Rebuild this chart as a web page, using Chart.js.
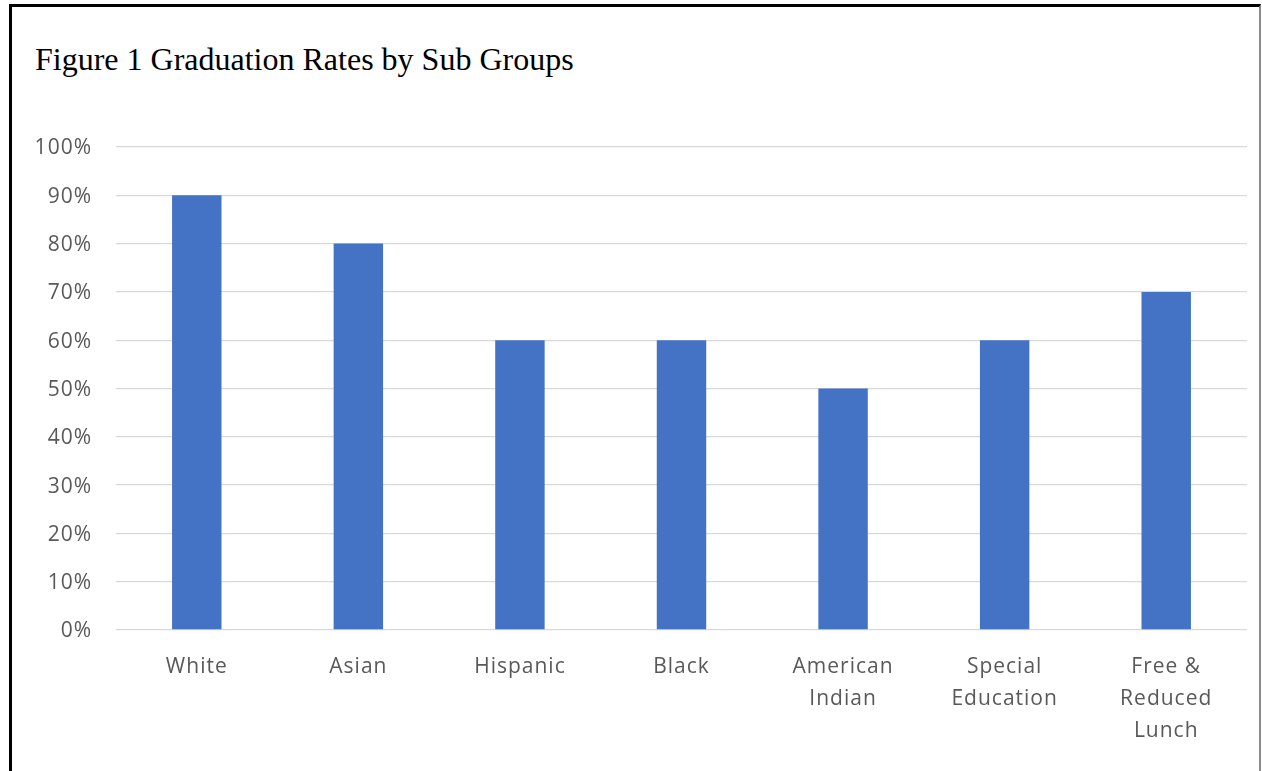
<!DOCTYPE html>
<html>
<head>
<meta charset="utf-8">
<script src="https://cdn.jsdelivr.net/npm/chart.js@4"></script>
<style>
  html, body { margin: 0; padding: 0; background: #fff; width: 1262px; height: 771px; overflow: hidden; }
  #frame { position: absolute; left: 9px; top: 4px; width: 1252px; height: 800px;
           border-left: 3px solid #000; border-top: 3px solid #000; border-right: 2px solid #8a8a8a; box-sizing: border-box; }
  #title { position: absolute; left: 35px; top: 41px; font-family: "Liberation Serif", "Times New Roman", serif;
           font-size: 32px; color: #000; white-space: nowrap; }
  #wrap { position: absolute; left: 0; top: 0; width: 1262px; height: 771px; }
</style>
</head>
<body>
<div id="frame"></div>
<div id="title">Figure 1 Graduation Rates by Sub Groups</div>
<div id="wrap"><canvas id="c" width="1262" height="771"></canvas></div>
<script>
const categories = ["White", "Asian", "Hispanic", "Black", ["American", "Indian"], ["Special", "Education"], ["Free &", "Reduced", "Lunch"]];
const graduationRates = [90, 80, 60, 60, 50, 60, 70];
const yTicks = [0, 10, 20, 30, 40, 50, 60, 70, 80, 90, 100];

const labelFont = { family: "'Open Sans', Lato, sans-serif", size: 21 };

const spacingPlugin = {
  id: 'spacing',
  beforeDraw(chart) { chart.ctx.letterSpacing = '1px'; }
};

new Chart(document.getElementById('c'), {
  type: 'bar',
  data: {
    labels: categories,
    datasets: [{
      data: graduationRates,
      backgroundColor: '#4472C4',
      borderWidth: 0,
      categoryPercentage: 1.0,
      barPercentage: 0.306
    }]
  },
  plugins: [spacingPlugin],
  options: {
    responsive: false,
    animation: false,
    layout: { padding: { left: 0, right: 15, top: 147, bottom: 0 } },
    plugins: { legend: { display: false }, title: { display: false }, tooltip: { enabled: false } },
    scales: {
      x: {
        grid: { display: false, drawTicks: false },
        border: { display: false },
        ticks: { color: '#595959', font: { ...labelFont, lineHeight: 32 / 21 }, padding: 21, maxRotation: 0, autoSkip: false },
        afterFit: (s) => { s.height = 771 - 630; }
      },
      y: {
        min: 0, max: 100,
        afterBuildTicks: (s) => { s.ticks = yTicks.map(v => ({ value: v })); },
        grid: { color: '#d9d9d9', lineWidth: 1.3, drawTicks: false },
        border: { display: false },
        ticks: { color: '#595959', font: labelFont, padding: 24, labelOffset: 1.5, callback: (v) => v + '%' },
        afterFit: (s) => { s.width = 116; }
      }
    }
  }
});
</script>
</body>
</html>
